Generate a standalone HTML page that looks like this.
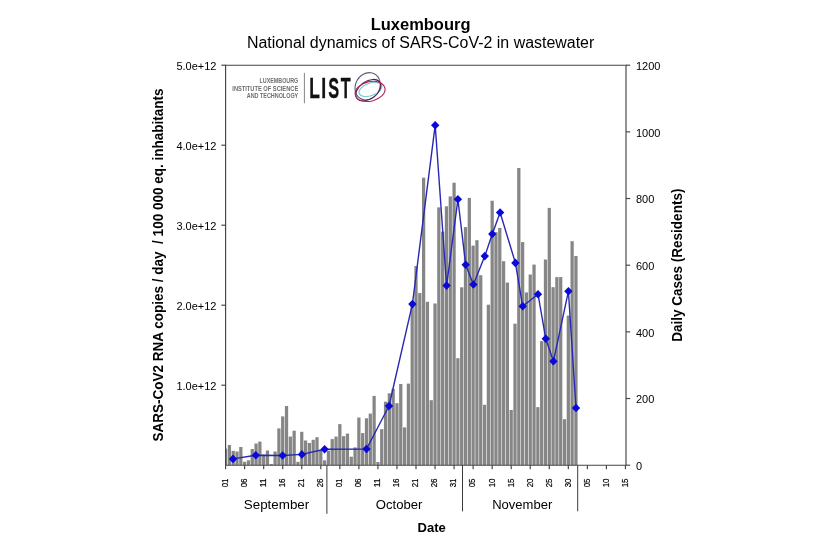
<!DOCTYPE html>
<html><head><meta charset="utf-8"><title>Luxembourg - National dynamics of SARS-CoV-2 in wastewater</title>
<style>
html,body{margin:0;padding:0;background:#fff;}
body{width:820px;height:546px;overflow:hidden;}
svg{display:block;font-family:"Liberation Sans",Arial,Helvetica,sans-serif;fill:#000;}
</style></head><body>
<svg width="820" height="546" viewBox="0 0 820 546">
<rect width="820" height="546" fill="#fff"/>
<text x="420.6" y="29.7" text-anchor="middle" font-size="16" font-weight="bold" textLength="99.8" lengthAdjust="spacingAndGlyphs">Luxembourg</text>
<text x="420.6" y="48.2" text-anchor="middle" font-size="16" textLength="347.4" lengthAdjust="spacingAndGlyphs">National dynamics of SARS-CoV-2 in wastewater</text>
<clipPath id="pc"><rect x="225.6" y="65" width="400.4" height="400.2"/></clipPath>
<g fill="#868686" clip-path="url(#pc)">
<rect x="223.97" y="448.60" width="3.25" height="16.60"/>
<rect x="227.78" y="445.00" width="3.25" height="20.20"/>
<rect x="231.59" y="450.80" width="3.25" height="14.40"/>
<rect x="235.40" y="451.50" width="3.25" height="13.70"/>
<rect x="239.21" y="447.00" width="3.25" height="18.20"/>
<rect x="243.01" y="461.80" width="3.25" height="3.40"/>
<rect x="246.82" y="460.30" width="3.25" height="4.90"/>
<rect x="250.63" y="449.00" width="3.25" height="16.20"/>
<rect x="254.44" y="443.50" width="3.25" height="21.70"/>
<rect x="258.25" y="441.60" width="3.25" height="23.60"/>
<rect x="262.06" y="454.50" width="3.25" height="10.70"/>
<rect x="265.86" y="450.50" width="3.25" height="14.70"/>
<rect x="269.67" y="464.00" width="3.25" height="1.20"/>
<rect x="273.48" y="451.50" width="3.25" height="13.70"/>
<rect x="277.29" y="428.40" width="3.25" height="36.80"/>
<rect x="281.09" y="416.40" width="3.25" height="48.80"/>
<rect x="284.90" y="406.00" width="3.25" height="59.20"/>
<rect x="288.71" y="436.60" width="3.25" height="28.60"/>
<rect x="292.52" y="430.70" width="3.25" height="34.50"/>
<rect x="296.33" y="461.80" width="3.25" height="3.40"/>
<rect x="300.13" y="431.80" width="3.25" height="33.40"/>
<rect x="303.94" y="440.50" width="3.25" height="24.70"/>
<rect x="307.75" y="443.00" width="3.25" height="22.20"/>
<rect x="311.56" y="439.80" width="3.25" height="25.40"/>
<rect x="315.37" y="437.20" width="3.25" height="28.00"/>
<rect x="319.17" y="450.00" width="3.25" height="15.20"/>
<rect x="322.98" y="460.30" width="3.25" height="4.90"/>
<rect x="326.79" y="450.70" width="3.25" height="14.50"/>
<rect x="330.60" y="439.10" width="3.25" height="26.10"/>
<rect x="334.41" y="436.60" width="3.25" height="28.60"/>
<rect x="338.21" y="424.10" width="3.25" height="41.10"/>
<rect x="342.02" y="436.20" width="3.25" height="29.00"/>
<rect x="345.83" y="433.60" width="3.25" height="31.60"/>
<rect x="349.64" y="456.70" width="3.25" height="8.50"/>
<rect x="353.45" y="447.40" width="3.25" height="17.80"/>
<rect x="357.25" y="417.50" width="3.25" height="47.70"/>
<rect x="361.06" y="433.10" width="3.25" height="32.10"/>
<rect x="364.87" y="418.30" width="3.25" height="46.90"/>
<rect x="368.68" y="413.60" width="3.25" height="51.60"/>
<rect x="372.49" y="395.90" width="3.25" height="69.30"/>
<rect x="376.29" y="462.00" width="3.25" height="3.20"/>
<rect x="380.10" y="429.10" width="3.25" height="36.10"/>
<rect x="383.91" y="401.70" width="3.25" height="63.50"/>
<rect x="387.72" y="393.30" width="3.25" height="71.90"/>
<rect x="391.53" y="388.80" width="3.25" height="76.40"/>
<rect x="395.33" y="403.20" width="3.25" height="62.00"/>
<rect x="399.14" y="384.00" width="3.25" height="81.20"/>
<rect x="402.95" y="427.40" width="3.25" height="37.80"/>
<rect x="406.76" y="383.60" width="3.25" height="81.60"/>
<rect x="410.57" y="305.50" width="3.25" height="159.70"/>
<rect x="414.38" y="266.00" width="3.25" height="199.20"/>
<rect x="418.18" y="293.10" width="3.25" height="172.10"/>
<rect x="421.99" y="177.70" width="3.25" height="287.50"/>
<rect x="425.80" y="301.80" width="3.25" height="163.40"/>
<rect x="429.61" y="400.20" width="3.25" height="65.00"/>
<rect x="433.41" y="303.50" width="3.25" height="161.70"/>
<rect x="437.22" y="207.40" width="3.25" height="257.80"/>
<rect x="441.03" y="231.70" width="3.25" height="233.50"/>
<rect x="444.84" y="206.30" width="3.25" height="258.90"/>
<rect x="448.65" y="196.40" width="3.25" height="268.80"/>
<rect x="452.45" y="182.70" width="3.25" height="282.50"/>
<rect x="456.26" y="358.20" width="3.25" height="107.00"/>
<rect x="460.07" y="287.30" width="3.25" height="177.90"/>
<rect x="463.88" y="227.10" width="3.25" height="238.10"/>
<rect x="467.69" y="197.90" width="3.25" height="267.30"/>
<rect x="471.50" y="245.60" width="3.25" height="219.60"/>
<rect x="475.30" y="240.20" width="3.25" height="225.00"/>
<rect x="479.11" y="275.20" width="3.25" height="190.00"/>
<rect x="482.92" y="404.80" width="3.25" height="60.40"/>
<rect x="486.73" y="304.70" width="3.25" height="160.50"/>
<rect x="490.53" y="200.75" width="3.25" height="264.45"/>
<rect x="494.34" y="232.20" width="3.25" height="233.00"/>
<rect x="498.15" y="227.90" width="3.25" height="237.30"/>
<rect x="501.96" y="261.20" width="3.25" height="204.00"/>
<rect x="505.77" y="282.60" width="3.25" height="182.60"/>
<rect x="509.57" y="410.00" width="3.25" height="55.20"/>
<rect x="513.38" y="323.70" width="3.25" height="141.50"/>
<rect x="517.19" y="168.00" width="3.25" height="297.20"/>
<rect x="521.00" y="242.10" width="3.25" height="223.10"/>
<rect x="524.81" y="292.40" width="3.25" height="172.80"/>
<rect x="528.62" y="274.50" width="3.25" height="190.70"/>
<rect x="532.42" y="264.60" width="3.25" height="200.60"/>
<rect x="536.23" y="407.10" width="3.25" height="58.10"/>
<rect x="540.04" y="341.10" width="3.25" height="124.10"/>
<rect x="543.85" y="259.50" width="3.25" height="205.70"/>
<rect x="547.65" y="207.90" width="3.25" height="257.30"/>
<rect x="551.46" y="287.20" width="3.25" height="178.00"/>
<rect x="555.27" y="277.10" width="3.25" height="188.10"/>
<rect x="559.08" y="277.10" width="3.25" height="188.10"/>
<rect x="562.89" y="419.20" width="3.25" height="46.00"/>
<rect x="566.69" y="315.60" width="3.25" height="149.60"/>
<rect x="570.50" y="241.20" width="3.25" height="224.00"/>
<rect x="574.31" y="256.00" width="3.25" height="209.20"/>
</g>
<path d="M225.6 65.2H626.0V465.2H225.6Z" fill="none" stroke="#444" stroke-width="1.15"/>
<path d="M221.4 65.2H225.6" stroke="#444" stroke-width="1.15"/><text x="216.4" y="69.6" text-anchor="end" font-size="11" textLength="40" lengthAdjust="spacingAndGlyphs">5.0e+12</text><path d="M221.4 145.2H225.6" stroke="#444" stroke-width="1.15"/><text x="216.4" y="149.6" text-anchor="end" font-size="11" textLength="40" lengthAdjust="spacingAndGlyphs">4.0e+12</text><path d="M221.4 225.2H225.6" stroke="#444" stroke-width="1.15"/><text x="216.4" y="229.6" text-anchor="end" font-size="11" textLength="40" lengthAdjust="spacingAndGlyphs">3.0e+12</text><path d="M221.4 305.2H225.6" stroke="#444" stroke-width="1.15"/><text x="216.4" y="309.6" text-anchor="end" font-size="11" textLength="40" lengthAdjust="spacingAndGlyphs">2.0e+12</text><path d="M221.4 385.2H225.6" stroke="#444" stroke-width="1.15"/><text x="216.4" y="389.6" text-anchor="end" font-size="11" textLength="40" lengthAdjust="spacingAndGlyphs">1.0e+12</text>
<path d="M626.0 65.20H630.2" stroke="#444" stroke-width="1.15"/><text x="635.9" y="70.0" font-size="11">1200</text><path d="M626.0 131.87H630.2" stroke="#444" stroke-width="1.15"/><text x="635.9" y="136.7" font-size="11">1000</text><path d="M626.0 198.53H630.2" stroke="#444" stroke-width="1.15"/><text x="635.9" y="203.3" font-size="11">800</text><path d="M626.0 265.20H630.2" stroke="#444" stroke-width="1.15"/><text x="635.9" y="270.0" font-size="11">600</text><path d="M626.0 331.87H630.2" stroke="#444" stroke-width="1.15"/><text x="635.9" y="336.7" font-size="11">400</text><path d="M626.0 398.53H630.2" stroke="#444" stroke-width="1.15"/><text x="635.9" y="403.3" font-size="11">200</text><path d="M626.0 465.20H630.2" stroke="#444" stroke-width="1.15"/><text x="635.9" y="470.0" font-size="11">0</text>
<path d="M225.60 465.2V469.2" stroke="#444" stroke-width="1.15"/><text transform="translate(227.95 482.9) rotate(-90)" font-size="9.2" stroke="#000" stroke-width="0.2" text-anchor="middle" textLength="8.8" lengthAdjust="spacingAndGlyphs">01</text><path d="M244.64 465.2V469.2" stroke="#444" stroke-width="1.15"/><text transform="translate(246.99 482.9) rotate(-90)" font-size="9.2" stroke="#000" stroke-width="0.2" text-anchor="middle" textLength="8.8" lengthAdjust="spacingAndGlyphs">06</text><path d="M263.68 465.2V469.2" stroke="#444" stroke-width="1.15"/><text transform="translate(266.03 482.9) rotate(-90)" font-size="9.2" stroke="#000" stroke-width="0.2" text-anchor="middle" textLength="8.8" lengthAdjust="spacingAndGlyphs">11</text><path d="M282.72 465.2V469.2" stroke="#444" stroke-width="1.15"/><text transform="translate(285.07 482.9) rotate(-90)" font-size="9.2" stroke="#000" stroke-width="0.2" text-anchor="middle" textLength="8.8" lengthAdjust="spacingAndGlyphs">16</text><path d="M301.76 465.2V469.2" stroke="#444" stroke-width="1.15"/><text transform="translate(304.11 482.9) rotate(-90)" font-size="9.2" stroke="#000" stroke-width="0.2" text-anchor="middle" textLength="8.8" lengthAdjust="spacingAndGlyphs">21</text><path d="M320.80 465.2V469.2" stroke="#444" stroke-width="1.15"/><text transform="translate(323.15 482.9) rotate(-90)" font-size="9.2" stroke="#000" stroke-width="0.2" text-anchor="middle" textLength="8.8" lengthAdjust="spacingAndGlyphs">26</text><path d="M339.84 465.2V469.2" stroke="#444" stroke-width="1.15"/><text transform="translate(342.19 482.9) rotate(-90)" font-size="9.2" stroke="#000" stroke-width="0.2" text-anchor="middle" textLength="8.8" lengthAdjust="spacingAndGlyphs">01</text><path d="M358.88 465.2V469.2" stroke="#444" stroke-width="1.15"/><text transform="translate(361.23 482.9) rotate(-90)" font-size="9.2" stroke="#000" stroke-width="0.2" text-anchor="middle" textLength="8.8" lengthAdjust="spacingAndGlyphs">06</text><path d="M377.92 465.2V469.2" stroke="#444" stroke-width="1.15"/><text transform="translate(380.27 482.9) rotate(-90)" font-size="9.2" stroke="#000" stroke-width="0.2" text-anchor="middle" textLength="8.8" lengthAdjust="spacingAndGlyphs">11</text><path d="M396.96 465.2V469.2" stroke="#444" stroke-width="1.15"/><text transform="translate(399.31 482.9) rotate(-90)" font-size="9.2" stroke="#000" stroke-width="0.2" text-anchor="middle" textLength="8.8" lengthAdjust="spacingAndGlyphs">16</text><path d="M416.00 465.2V469.2" stroke="#444" stroke-width="1.15"/><text transform="translate(418.35 482.9) rotate(-90)" font-size="9.2" stroke="#000" stroke-width="0.2" text-anchor="middle" textLength="8.8" lengthAdjust="spacingAndGlyphs">21</text><path d="M435.04 465.2V469.2" stroke="#444" stroke-width="1.15"/><text transform="translate(437.39 482.9) rotate(-90)" font-size="9.2" stroke="#000" stroke-width="0.2" text-anchor="middle" textLength="8.8" lengthAdjust="spacingAndGlyphs">26</text><path d="M454.08 465.2V469.2" stroke="#444" stroke-width="1.15"/><text transform="translate(456.43 482.9) rotate(-90)" font-size="9.2" stroke="#000" stroke-width="0.2" text-anchor="middle" textLength="8.8" lengthAdjust="spacingAndGlyphs">31</text><path d="M473.12 465.2V469.2" stroke="#444" stroke-width="1.15"/><text transform="translate(475.47 482.9) rotate(-90)" font-size="9.2" stroke="#000" stroke-width="0.2" text-anchor="middle" textLength="8.8" lengthAdjust="spacingAndGlyphs">05</text><path d="M492.16 465.2V469.2" stroke="#444" stroke-width="1.15"/><text transform="translate(494.51 482.9) rotate(-90)" font-size="9.2" stroke="#000" stroke-width="0.2" text-anchor="middle" textLength="8.8" lengthAdjust="spacingAndGlyphs">10</text><path d="M511.20 465.2V469.2" stroke="#444" stroke-width="1.15"/><text transform="translate(513.55 482.9) rotate(-90)" font-size="9.2" stroke="#000" stroke-width="0.2" text-anchor="middle" textLength="8.8" lengthAdjust="spacingAndGlyphs">15</text><path d="M530.24 465.2V469.2" stroke="#444" stroke-width="1.15"/><text transform="translate(532.59 482.9) rotate(-90)" font-size="9.2" stroke="#000" stroke-width="0.2" text-anchor="middle" textLength="8.8" lengthAdjust="spacingAndGlyphs">20</text><path d="M549.28 465.2V469.2" stroke="#444" stroke-width="1.15"/><text transform="translate(551.63 482.9) rotate(-90)" font-size="9.2" stroke="#000" stroke-width="0.2" text-anchor="middle" textLength="8.8" lengthAdjust="spacingAndGlyphs">25</text><path d="M568.32 465.2V469.2" stroke="#444" stroke-width="1.15"/><text transform="translate(570.67 482.9) rotate(-90)" font-size="9.2" stroke="#000" stroke-width="0.2" text-anchor="middle" textLength="8.8" lengthAdjust="spacingAndGlyphs">30</text><path d="M587.36 465.2V469.2" stroke="#444" stroke-width="1.15"/><text transform="translate(589.71 482.9) rotate(-90)" font-size="9.2" stroke="#000" stroke-width="0.2" text-anchor="middle" textLength="8.8" lengthAdjust="spacingAndGlyphs">05</text><path d="M606.40 465.2V469.2" stroke="#444" stroke-width="1.15"/><text transform="translate(608.75 482.9) rotate(-90)" font-size="9.2" stroke="#000" stroke-width="0.2" text-anchor="middle" textLength="8.8" lengthAdjust="spacingAndGlyphs">10</text><path d="M625.44 465.2V469.2" stroke="#444" stroke-width="1.15"/><text transform="translate(627.79 482.9) rotate(-90)" font-size="9.2" stroke="#000" stroke-width="0.2" text-anchor="middle" textLength="8.8" lengthAdjust="spacingAndGlyphs">15</text>
<path d="M326.9 465.2V513.8" stroke="#3a3a3a" stroke-width="1"/><path d="M462.5 465.2V511.4" stroke="#3a3a3a" stroke-width="1"/><path d="M577.7 465.2V511.3" stroke="#3a3a3a" stroke-width="1"/>
<text x="276.5" y="509.3" text-anchor="middle" font-size="13.3" textLength="65.5" lengthAdjust="spacingAndGlyphs">September</text>
<text x="399.1" y="509.3" text-anchor="middle" font-size="13.3" textLength="46.6" lengthAdjust="spacingAndGlyphs">October</text>
<text x="522.2" y="509.3" text-anchor="middle" font-size="13.3" textLength="60.1" lengthAdjust="spacingAndGlyphs">November</text>
<text x="431.6" y="532.4" text-anchor="middle" font-size="13.3" font-weight="bold" textLength="28.2" lengthAdjust="spacingAndGlyphs">Date</text>
<text transform="translate(162.6 265) rotate(-90)" text-anchor="middle" font-size="14.3" font-weight="bold" textLength="352.8" lengthAdjust="spacingAndGlyphs" xml:space="preserve">SARS-CoV2 RNA copies / day  / 100 000 eq. inhabitants</text>
<text transform="translate(682.3 265.2) rotate(-90)" text-anchor="middle" font-size="14.3" font-weight="bold" textLength="153.2" lengthAdjust="spacingAndGlyphs">Daily Cases (Residents)</text>
<path d="M233 458.9 L255.8 455.3 L282.6 455.5 L301.9 454.4 L324.6 449.2 L366.5 449 L389 406 L412.4 304.1 L435.2 125.2 L446.6 285.6 L457.9 199.3 L465.7 264.8 L473.4 284.5 L484.8 256.1 L492.3 234 L500.1 212.5 L515.4 262.9 L522.7 306.3 L538 294.2 L545.8 338.8 L553.4 361.3 L568.4 291.3 L576 408" fill="none" stroke="#2828b4" stroke-width="1.4" stroke-linejoin="round"/>
<g fill="#0a0ad8"><path d="M233 454.59999999999997L237.2 458.9L233 463.2L228.8 458.9Z"/><path d="M255.8 451.0L260.0 455.3L255.8 459.6L251.60000000000002 455.3Z"/><path d="M282.6 451.2L286.8 455.5L282.6 459.8L278.40000000000003 455.5Z"/><path d="M301.9 450.09999999999997L306.09999999999997 454.4L301.9 458.7L297.7 454.4Z"/><path d="M324.6 444.9L328.8 449.2L324.6 453.5L320.40000000000003 449.2Z"/><path d="M366.5 444.7L370.7 449L366.5 453.3L362.3 449Z"/><path d="M389 401.7L393.2 406L389 410.3L384.8 406Z"/><path d="M412.4 299.8L416.59999999999997 304.1L412.4 308.40000000000003L408.2 304.1Z"/><path d="M435.2 120.9L439.4 125.2L435.2 129.5L431.0 125.2Z"/><path d="M446.6 281.3L450.8 285.6L446.6 289.90000000000003L442.40000000000003 285.6Z"/><path d="M457.9 195.0L462.09999999999997 199.3L457.9 203.60000000000002L453.7 199.3Z"/><path d="M465.7 260.5L469.9 264.8L465.7 269.1L461.5 264.8Z"/><path d="M473.4 280.2L477.59999999999997 284.5L473.4 288.8L469.2 284.5Z"/><path d="M484.8 251.8L489.0 256.1L484.8 260.40000000000003L480.6 256.1Z"/><path d="M492.3 229.7L496.5 234L492.3 238.3L488.1 234Z"/><path d="M500.1 208.2L504.3 212.5L500.1 216.8L495.90000000000003 212.5Z"/><path d="M515.4 258.59999999999997L519.6 262.9L515.4 267.2L511.2 262.9Z"/><path d="M522.7 302.0L526.9000000000001 306.3L522.7 310.6L518.5 306.3Z"/><path d="M538 289.9L542.2 294.2L538 298.5L533.8 294.2Z"/><path d="M545.8 334.5L550.0 338.8L545.8 343.1L541.5999999999999 338.8Z"/><path d="M553.4 357.0L557.6 361.3L553.4 365.6L549.1999999999999 361.3Z"/><path d="M568.4 287.0L572.6 291.3L568.4 295.6L564.1999999999999 291.3Z"/><path d="M576 403.7L580.2 408L576 412.3L571.8 408Z"/></g>
<!-- LIST logo -->
<g id="logo">
<g fill="#6e6e6e" font-size="6.5" font-weight="bold" text-anchor="end">
<text x="298.2" y="82.7" textLength="38.6" lengthAdjust="spacingAndGlyphs">LUXEMBOURG</text>
<text x="298.2" y="90.5" textLength="65.9" lengthAdjust="spacingAndGlyphs">INSTITUTE OF SCIENCE</text>
<text x="298.2" y="98.3" textLength="51.4" lengthAdjust="spacingAndGlyphs">AND TECHNOLOGY</text>
</g>
<path d="M304.4 72.9V103.3" stroke="#777" stroke-width="0.9"/>
<g font-size="28.6" font-weight="bold" fill="#111" stroke="#111" stroke-width="0.35">
<text x="309.3" y="98.3" textLength="10.6" lengthAdjust="spacingAndGlyphs">L</text>
<text x="321.2" y="98.3" textLength="4.9" lengthAdjust="spacingAndGlyphs">I</text>
<text x="328.3" y="98.3" textLength="10.9" lengthAdjust="spacingAndGlyphs">S</text>
<text x="340.7" y="98.3" textLength="9.9" lengthAdjust="spacingAndGlyphs">T</text>
</g>
<g fill="none" stroke-width="1.1">
<ellipse cx="367.6" cy="86.3" rx="12" ry="14.2" transform="rotate(30 367.6 86.3)" stroke="#56607c"/>
<ellipse cx="370.5" cy="89.4" rx="12" ry="6.2" transform="rotate(-20 370.5 89.4)" stroke="#6fcfd2"/>
<ellipse cx="368.3" cy="90.2" rx="14" ry="8.8" transform="rotate(-35 368.3 90.2)" stroke="#5c1c4c"/>
<ellipse cx="370.1" cy="91.4" rx="15.2" ry="9.8" transform="rotate(-13 370.1 91.4)" stroke="#b3205c"/>
</g>
</g>
</svg>
</body></html>
